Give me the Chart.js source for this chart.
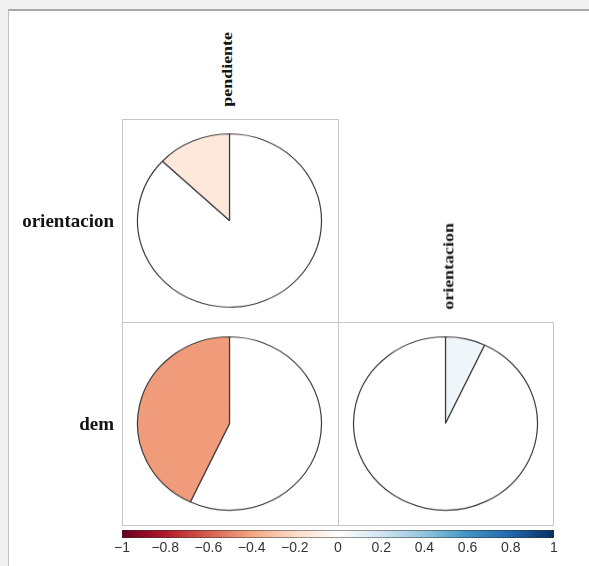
<!DOCTYPE html>
<html>
<head>
<meta charset="utf-8">
<title>Correlaciones</title>
<script src="https://cdn.jsdelivr.net/npm/chart.js@4.4.1/dist/chart.umd.min.js"></script>
<style>
  html, body { margin: 0; padding: 0; width: 589px; height: 566px; overflow: hidden; background: #f1f1f1; }
  #panel { position: absolute; left: 8px; top: 9px; width: 620px; height: 620px; background: #fff;
           border-top: 2px solid #a8a8a8; border-left: 1px solid #c2c2c2; }
  .abs { position: absolute; }
  canvas { display: block; }
  .rowLbl { position: absolute; font-family: "Liberation Serif", "Times New Roman", serif; font-weight: bold;
            font-size: 19px; line-height: 19px; color: #141414; text-align: right; white-space: nowrap; }
  .colLbl { position: absolute; font-family: "Liberation Serif", "Times New Roman", serif; font-weight: bold;
            font-size: 14px; line-height: 14px; color: #141414; white-space: nowrap; }
</style>
</head>
<body>
<div id="panel"></div>
<canvas id="matrix" class="abs" width="451" height="426" style="left:112px;top:109px;width:451px;height:426px"></canvas>
<canvas id="legendBar" class="abs" width="480" height="35" style="left:100px;top:524px;width:480px;height:35px"></canvas>
<div id="overlay"></div>
<script>
// Column variables (top labels) and row variables (left labels)
const columnLabels = ['pendiente', 'orientacion'];
const rowLabels = ['orientacion', 'dem'];

// Correlation of each column variable with the row variables (null = empty upper cell)
const pendienteCorr = [-0.13, -0.43];
const orientacionCorr = [null, 0.07];

// Colour legend ticks and the diverging palette (red -> white -> blue)
const legendTicks = [-1, -0.8, -0.6, -0.4, -0.2, 0, 0.2, 0.4, 0.6, 0.8, 1];
const paletteStops = ['#67001F', '#B2182B', '#D6604D', '#F4A582', '#FDDBC7', '#FFFFFF',
                      '#D1E5F0', '#92C5DE', '#4393C3', '#2166AC', '#053061'];

const corrColumns = [pendienteCorr, orientacionCorr];

function hexToRgb(h) {
  const n = parseInt(h.slice(1), 16);
  return [(n >> 16) & 255, (n >> 8) & 255, n & 255];
}
function corrColor(v) {
  const t = (v + 1) / 2 * (paletteStops.length - 1);
  const i = Math.min(Math.floor(t), paletteStops.length - 2);
  const f = t - i;
  const a = hexToRgb(paletteStops[i]), b = hexToRgb(paletteStops[i + 1]);
  const c = a.map((x, k) => Math.round(x + (b[k] - x) * f));
  return `rgb(${c[0]},${c[1]},${c[2]})`;
}
function fmtTick(v) {
  const r = Math.round(v * 10) / 10;
  if (r === 0) return '0';
  return (r < 0 ? '\u2212' : '') + Math.abs(r);
}

// Cells of the lower triangle: one point per defined correlation
const cellPoints = [];
corrColumns.forEach((col, ci) => col.forEach((v, ri) => {
  if (v !== null) cellPoints.push({ x: ci + 1, y: ri + 1, r: v });
}));

// Outlines of the occupied cells, placed through the chart scales
const cellOutline = {
  id: 'cellOutline',
  beforeDatasetsDraw(chart) {
    const { ctx, scales: { x, y } } = chart;
    ctx.save();
    ctx.strokeStyle = '#c6c6c6';
    ctx.lineWidth = 1;
    cellPoints.forEach(p => {
      const x0 = Math.round(x.getPixelForValue(p.x - 0.5)) + 0.5;
      const x1 = Math.round(x.getPixelForValue(p.x + 0.5)) + 0.5;
      const y0 = Math.round(y.getPixelForValue(p.y - 0.5)) + 0.5;
      const y1 = Math.round(y.getPixelForValue(p.y + 0.5)) + 0.5;
      ctx.strokeRect(x0, y0, x1 - x0, y1 - y0);
    });
    ctx.restore();
  }
};

const matrixCanvas = document.getElementById('matrix');
const matrix = new Chart(matrixCanvas, {
  type: 'scatter',
  data: { datasets: [{ data: cellPoints, pointRadius: 0 }] },
  options: {
    responsive: false,
    animation: false,
    events: [],
    layout: { padding: 10 },
    plugins: { legend: { display: false }, tooltip: { enabled: false } },
    scales: {
      x: { type: 'linear', min: 0.5, max: columnLabels.length + 0.5, display: false },
      y: { type: 'linear', min: 0.5, max: rowLabels.length + 0.5, reverse: true, display: false }
    }
  },
  plugins: [cellOutline]
});

const overlay = document.getElementById('overlay');
const offX = matrixCanvas.offsetLeft, offY = matrixCanvas.offsetTop;
const sx = matrix.scales.x, sy = matrix.scales.y;

// One pie per cell: slice size = |r|, clockwise for positive, anticlockwise for negative
cellPoints.forEach(p => {
  const cx = offX + sx.getPixelForValue(p.x);
  const cy = offY + sy.getPixelForValue(p.y);
  const cw = Math.abs(sx.getPixelForValue(p.x + 0.5) - sx.getPixelForValue(p.x - 0.5));
  const ch = Math.abs(sy.getPixelForValue(p.y + 0.5) - sy.getPixelForValue(p.y - 0.5));
  const rad = 0.427 * cw;
  const size = Math.ceil(2 * rad + 8);
  const wrap = document.createElement('div');
  wrap.className = 'abs';
  wrap.style.cssText = `left:${cx - size / 2}px;top:${cy - size / 2}px;width:${size}px;height:${size}px;` +
                       `transform:scaleY(${ch / cw});transform-origin:50% 50%;`;
  const cv = document.createElement('canvas');
  cv.width = size; cv.height = size;
  cv.style.width = size + 'px'; cv.style.height = size + 'px';
  wrap.appendChild(cv);
  overlay.appendChild(wrap);
  const a = Math.abs(p.r);
  const fill = corrColor(p.r);
  new Chart(cv, {
    type: 'pie',
    data: {
      datasets: [{
        data: p.r < 0 ? [1 - a, a] : [a, 1 - a],
        backgroundColor: p.r < 0 ? ['#ffffff', fill] : [fill, '#ffffff'],
        borderColor: '#3a3a3a',
        borderWidth: 1.2
      }]
    },
    options: {
      responsive: false,
      animation: false,
      events: [],
      radius: rad,
      plugins: { legend: { display: false }, tooltip: { enabled: false } }
    }
  });
});

// Row labels to the left of each row
rowLabels.forEach((name, ri) => {
  const cy = offY + sy.getPixelForValue(ri + 1);
  const d = document.createElement('div');
  d.className = 'rowLbl';
  d.textContent = name;
  d.style.left = '0px';
  d.style.width = (offX + sx.getPixelForValue(0.5) - 8) + 'px';
  d.style.top = (cy - 10) + 'px';
  overlay.appendChild(d);
});

// Column labels, rotated, reading upwards above the first occupied cell of each column
const colLabelShift = [3.5, 9];
columnLabels.forEach((name, ci) => {
  const firstRow = corrColumns[ci].findIndex(v => v !== null) + 1;
  const bx = offX + sx.getPixelForValue(ci + 1) + colLabelShift[ci];
  const by = offY + sy.getPixelForValue(firstRow - 0.5) - 12.5;
  const baseOff = 11.7;
  const s = document.createElement('span');
  s.className = 'colLbl';
  s.textContent = name;
  s.style.left = bx + 'px';
  s.style.top = (by - baseOff) + 'px';
  s.style.transformOrigin = `0px ${baseOff}px`;
  s.style.transform = 'rotate(-90deg) scaleX(1.28)';
  overlay.appendChild(s);
});

// Colour legend bar along the bottom
new Chart(document.getElementById('legendBar'), {
  type: 'bar',
  data: {
    labels: ['r'],
    datasets: [{
      data: [[legendTicks[0], legendTicks[legendTicks.length - 1]]],
      backgroundColor(ctx) {
        const chart = ctx.chart;
        const xs = chart.scales.x;
        if (!xs || !chart.chartArea) return paletteStops[5];
        const g = chart.ctx.createLinearGradient(xs.getPixelForValue(-1), 0, xs.getPixelForValue(1), 0);
        paletteStops.forEach((c, i) => g.addColorStop(i / (paletteStops.length - 1), c));
        return g;
      },
      borderColor: '#2e2e2e',
      borderWidth: 0.8,
      borderSkipped: false,
      barPercentage: 1,
      categoryPercentage: 1
    }]
  },
  options: {
    indexAxis: 'y',
    responsive: false,
    animation: false,
    events: [],
    layout: { padding: { left: 22, right: 26, top: 6, bottom: 0 } },
    plugins: { legend: { display: false }, tooltip: { enabled: false } },
    scales: {
      x: {
        type: 'linear',
        min: legendTicks[0],
        max: legendTicks[legendTicks.length - 1],
        afterBuildTicks(axis) { axis.ticks = legendTicks.map(v => ({ value: v })); },
        afterFit(axis) { axis.height = 21; },
        ticks: {
          autoSkip: false,
          maxRotation: 0,
          padding: 2,
          color: '#333333',
          font: { family: '"Liberation Sans", Arial, sans-serif', size: 14 },
          callback: v => fmtTick(v)
        },
        grid: { display: false, drawTicks: false },
        border: { display: false }
      },
      y: { display: false }
    }
  }
});
</script>
</body>
</html>
